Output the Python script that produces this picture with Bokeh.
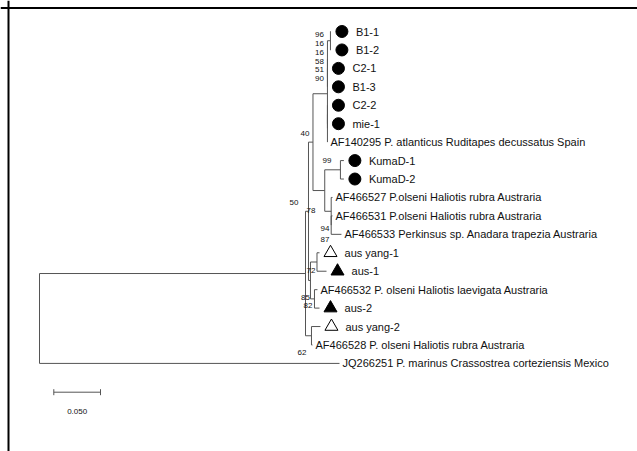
from bokeh.plotting import figure
from bokeh.models import Range1d, Span
from bokeh.embed import file_html
from bokeh.resources import INLINE
from bokeh.core.properties import value

# ---------------- data ----------------
leaf_names = [
    "B1-1", "B1-2", "C2-1", "B1-3", "C2-2", "mie-1",
    "AF140295 P. atlanticus Ruditapes decussatus Spain",
    "KumaD-1", "KumaD-2",
    "AF466527 P.olseni Haliotis rubra Austraria",
    "AF466531 P.olseni Haliotis rubra Austraria",
    "AF466533 Perkinsus sp. Anadara trapezia Austraria",
    "aus yang-1", "aus-1",
    "AF466532 P. olseni Haliotis laevigata Austraria",
    "aus-2", "aus yang-2",
    "AF466528 P. olseni Haliotis rubra Austraria",
    "JQ266251 P. marinus Crassostrea corteziensis Mexico",
]
# terminal branch lengths (substitutions/site)
leaf_lengths = [0.0005, 0.0005, 0.0, 0.0, 0.0, 0.0, 0.0,
                0.0037, 0.0037, 0.0014, 0.0014, 0.0110,
                0.0027, 0.0102, 0.0032, 0.0054, 0.0096, 0.0011, 0.3212]
# symbol group of each sample
leaf_symbols = ["dot"] * 6 + [None] + ["dot"] * 2 + [None] * 3 + \
               ["open_tri", "tri", None, "tri", "open_tri", None, None]

# internal nodes
node_names = ["root", "I", "N50", "N40", "Bc", "P", "n1", "nA", "Q", "nB",
              "K0", "K99", "K1", "K2", "Naus", "A3", "A4", "Y2"]
node_children = [
    ["I", leaf_names[18]],
    ["N50", "Y2"],
    ["N40", "Naus"],
    ["Bc", "K0"],
    ["P", "Q"],
    ["n1", "nA"],
    ["B1-1", "B1-2"],
    ["C2-1", "B1-3"],
    ["nB", leaf_names[6]],
    ["C2-2", "mie-1"],
    ["K99", "K1"],
    ["KumaD-1", "KumaD-2"],
    [leaf_names[9], "K2"],
    [leaf_names[10], leaf_names[11]],
    ["A3", "A4"],
    ["aus yang-1", "aus-1"],
    [leaf_names[14], "aus-2"],
    ["aus yang-2", leaf_names[17]],
]
node_lengths = [0.0, 0.2848, 0.0032, 0.0048, 0.0155, 0.0, 0.0032, 0.0, 0.0, 0.0,
                0.0126, 0.0168, 0.0069, 0.0, 0.0021, 0.0070, 0.0043, 0.0064]
node_support = [None, None, 50, 40, 90, 16, 96, 16, 51, 58,
                78, 99, 94, 87, 85, 72, 82, 62]

scale_value = 0.05
scale_text = "0.050"

# ---------------- layout / style ----------------
W, H = 637, 451
PX = 1 / 934.0        # x data units per pixel
PY = 1 / 18.44        # leaf-index units per pixel
ROOT_PX, TOP_PX = 39, 31
x0 = -ROOT_PX * PX
y_top = -TOP_PX * PY
LINE = "#555555"
TXT = "#111111"
FONT = value("Liberation Sans")

# label offsets (pixels): right edge dx from node, centre dy from node
label_off = {
    "N50": (-10, -9), "N40": (-3.5, -8.6), "K99": (-9, -9.5),
    "K0": (-9.3, 20), "K1": (-1.7, 17.2), "K2": (-1.7, 14.4),
    "A3": (-1.5, 8.5), "Naus": (-0.5, 16.6), "A4": (-2, 7.1), "Y2": (-5, 16.7),
}
STACK_CLADE, STACK_DY, STACK_STEP, STACK_DX = "Bc", -6.0, 8.8, -3.5

# ---------------- tree layout ----------------
children = dict(zip(node_names, node_children))
length = dict(zip(node_names, node_lengths))
length.update(dict(zip(leaf_names, leaf_lengths)))
support = dict(zip(node_names, node_support))
ypos = {n: float(i) for i, n in enumerate(leaf_names)}
xpos = {}


def place(n, x):
    xpos[n] = x
    if n in children:
        for c in children[n]:
            place(c, x + length[c])
        ypos[n] = (ypos[children[n][0]] + ypos[children[n][-1]]) / 2


place("root", 0.0)

sx0, sy0, sx1, sy1 = [], [], [], []
for n in node_names:
    ch = children[n]
    sx0.append(xpos[n]); sy0.append(ypos[ch[0]]); sx1.append(xpos[n]); sy1.append(ypos[ch[-1]])
    for c in ch:
        sx0.append(xpos[n]); sy0.append(ypos[c]); sx1.append(xpos[c]); sy1.append(ypos[c])

p = figure(width=W, height=H, output_backend="svg", toolbar_location=None,
           x_range=Range1d(x0, x0 + W * PX), y_range=Range1d(y_top + H * PY, y_top),
           x_axis_type=None, y_axis_type=None, min_border=0)
p.grid.visible = False
p.outline_line_color = None
p.background_fill_color = "white"
p.border_fill_color = "white"

p.segment(sx0, sy0, sx1, sy1, line_color=LINE, line_width=1)

# symbols and tip labels
mk = {"dot": ([], []), "tri": ([], []), "open_tri": ([], [])}
tx, ty, tt = [], [], []
for n, s in zip(leaf_names, leaf_symbols):
    if s is None:
        tx.append(xpos[n] + 3 * PX)
    else:
        mk[s][0].append(xpos[n] + 11 * PX)
        mk[s][1].append(ypos[n])
        tx.append(xpos[n] + 25 * PX)
    ty.append(ypos[n]); tt.append(n)

p.scatter(mk["dot"][0], mk["dot"][1], marker="circle", size=12,
          fill_color="black", line_color="black")
p.scatter(mk["tri"][0], mk["tri"][1], marker="triangle", size=13,
          fill_color="black", line_color="black")
p.scatter(mk["open_tri"][0], mk["open_tri"][1], marker="triangle", size=13,
          fill_color="white", line_color="black", line_width=1)
p.text(tx, ty, text=tt, text_font=FONT, text_font_size="11px", text_color=TXT,
       text_align="left", text_baseline="middle")

# bootstrap labels
stack = []


def post(n):
    if n in children:
        for c in children[n]:
            post(c)
        stack.append(n)


post(STACK_CLADE)
bx, by, bt = [], [], []
for k, n in enumerate(stack):
    bx.append(xpos[STACK_CLADE] + STACK_DX * PX)
    by.append(ypos[stack[0]] + (STACK_DY + k * STACK_STEP) * PY)
    bt.append(str(support[n]))
for n, (dx, dy) in label_off.items():
    bx.append(xpos[n] + dx * PX); by.append(ypos[n] + dy * PY); bt.append(str(support[n]))
p.text(bx, by, text=bt, text_font=FONT, text_font_size="8px", text_color=TXT,
       text_align="right", text_baseline="middle")

# scale bar
sb_x = (53.3 - ROOT_PX) * PX
sb_y = (391.7 - TOP_PX) * PY
p.segment([sb_x, sb_x, sb_x + scale_value], [sb_y, sb_y - 3 * PY, sb_y - 3 * PY],
          [sb_x + scale_value, sb_x, sb_x + scale_value], [sb_y, sb_y + 3 * PY, sb_y + 3 * PY],
          line_color=LINE, line_width=1)
p.text([sb_x + scale_value / 2], [sb_y + 19 * PY], text=[scale_text], text_font=FONT,
       text_font_size="8px", text_color=TXT, text_align="center", text_baseline="middle")

# frame edges of the picture
p.add_layout(Span(location=x0 + 8 * PX, dimension="height", line_color="black", line_width=2))
p.add_layout(Span(location=y_top + 7.5 * PY, dimension="width", line_color="black", line_width=2))

open("out.html", "w").write(file_html(p, INLINE))
